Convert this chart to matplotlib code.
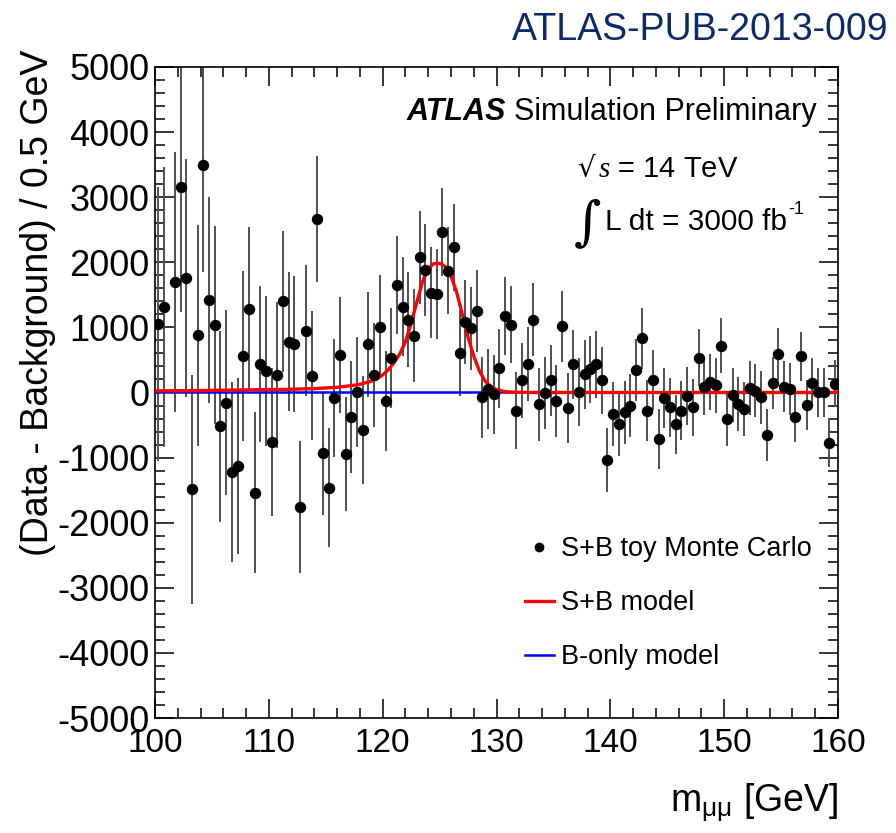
import numpy as np
import matplotlib
matplotlib.use('Agg')
import matplotlib.pyplot as plt
from matplotlib.lines import Line2D
from matplotlib.ticker import MultipleLocator

plt.rcParams['font.family'] = ['Liberation Sans', 'DejaVu Sans']
plt.rcParams['mathtext.fontset'] = 'custom'
plt.rcParams['mathtext.rm'] = 'Liberation Sans'
plt.rcParams['mathtext.it'] = 'Liberation Serif:italic'
plt.rcParams['mathtext.bf'] = 'Liberation Sans:bold'
plt.rcParams['axes.unicode_minus'] = False

# 0.5 GeV bins from 100 to 160 GeV
bin_lo = 100.0
bin_width = 0.5
n_bins = 120

# (data - background) per bin (bin 2 has no marker)
toy_values = [
    1050, 1320, np.nan, 1700, 3160, 1760, -1490, 880, 3490, 1420,
    1030, -520, -160, -1220, -1130, 560, 1290, -1540, 440, 330,
    -760, 270, 1400, 780, 750, -1760, 950, 260, 2670, -930,
    -1460, -90, 570, -950, -380, 10, -570, 740, 270, 1010,
    -130, 530, 1650, 1320, 1120, 875, 2080, 1880, 1530, 1510,
    2460, 1870, 2230, 605, 1090, 985, 1255, -75, 55, -26,
    370, 1170, 1040, -277, 190, 440, 1120, -180, -10, 185,
    -133, 1020, -236, 431, 5, 277, 355, 433, 185, -1036,
    -333, -487, -303, -200, 344, 831, -277, 190, -713, -82,
    -226, -487, -277, -56, -226, 535, 82, 166, 108, 718,
    -405, -36, -174, -256, 67, 26, -72, -656, 149, 595,
    92, 51, -369, 554, -195, 149, 0, 0, -769, 138,
]

toy_errors = [
    2100, 2150, np.nan, 2000, 1920, 1830, 1760, 1700, 1640, 1580,
    1520, 1470, 1420, 1380, 1350, 1310, 1250, 1235, 1200, 1150,
    1140, 1120, 1080, 1070, 1045, 1020, 1005, 985, 965, 945,
    920, 905, 890, 875, 860, 845, 830, 810, 800, 790,
    775, 765, 755, 755, 735, 720, 715, 710, 700, 690,
    677, 666, 670, 660, 645, 640, 633, 617, 612, 608,
    605, 600, 590, 585, 575, 570, 565, 564, 555, 550,
    550, 544, 538, 530, 523, 523, 518, 518, 510, 497,
    495, 490, 487, 487, 477, 467, 464, 460, 460, 456,
    452, 452, 447, 447, 441, 436, 431, 431, 425, 420,
    420, 410, 410, 410, 410, 408, 405, 400, 400, 400,
    390, 395, 385, 380, 380, 377, 375, 375, 370, 365,
]

# S+B model minus background
sb_mass = [100, 104, 108, 112, 114, 116, 117, 118, 119, 119.5,
           120, 120.5, 121, 121.5, 122, 122.5, 123, 123.5, 124, 124.5,
           125, 125.5, 126, 126.5, 127, 127.5, 128, 128.5, 129, 129.5,
           130, 130.5, 131, 132, 133, 160]
sb_values = [25, 30, 40, 50, 60, 80, 100, 125, 175, 210,
             270, 350, 460, 590, 780, 1060, 1390, 1700, 1900, 1980,
             1985, 1935, 1790, 1540, 1200, 850, 560, 330, 175, 90,
             45, 22, 10, 3, 0, 0]

# B-only model minus background
b_mass = [100, 160]
b_values = [0, 0]

W, H = 896, 833


def main():
    fig = plt.figure(figsize=(W / 100, H / 100), dpi=100)
    ax = fig.add_axes([155 / W, 1 - 718 / H, 683 / W, 651 / H])

    centres = bin_lo + bin_width * (np.arange(n_bins) + 0.5)

    ax.plot(b_mass, b_values, color='#0000ff', lw=1.8, zorder=3)
    ax.errorbar(centres, toy_values, yerr=toy_errors, fmt='none',
                ecolor='#505050', elinewidth=1.4, capsize=0, zorder=2)
    ax.plot(sb_mass, sb_values, color='#ff0000', lw=2.4, zorder=4)
    ax.plot(centres, toy_values, 'o', color='black', ms=7.2, zorder=5)

    ax.set_xlim(100, 160)
    ax.set_ylim(-5000, 5000)
    ax.xaxis.set_major_locator(MultipleLocator(10))
    ax.xaxis.set_minor_locator(MultipleLocator(2))
    ax.yaxis.set_major_locator(MultipleLocator(1000))
    ax.yaxis.set_minor_locator(MultipleLocator(200))
    ax.tick_params(which='both', direction='in', top=True, right=True, width=1.1)
    ax.tick_params(which='major', length=14)
    ax.tick_params(which='minor', length=7)
    ax.tick_params(axis='x', labelsize=24, pad=7)
    ax.tick_params(axis='y', labelsize=26, pad=4)
    for s in ax.spines.values():
        s.set_linewidth(1.2)

    fig.text(38 / W, 1 - 50 / H, '(Data - Background) / 0.5 GeV', rotation=90,
             ha='center', va='top', fontsize=27)
    fig.text(838 / W, 1 - 812 / H, r'm$_{\mathrm{\mu\mu}}$ [GeV]',
             ha='right', va='baseline', fontsize=27)

    fig.text(888 / W, 1 - 40 / H, 'ATLAS-PUB-2013-009', ha='right',
             va='baseline', fontsize=27, color='#0c2a68')

    fig.text(407 / W, 1 - 120 / H, 'ATLAS', ha='left', va='baseline',
             fontsize=22, fontweight='bold', fontstyle='italic')
    fig.text(817 / W, 1 - 120 / H, 'Simulation Preliminary', ha='right',
             va='baseline', fontsize=22)
    fig.text(577 / W, 1 - 177 / H, '\u221a', ha='left', va='baseline',
             fontsize=20, family='DejaVu Serif')
    fig.text(738 / W, 1 - 177 / H, r'$\mathit{s}$ = 14 TeV', ha='right',
             va='baseline', fontsize=21)
    fig.text(574 / W, 1 - 238 / H, '\u222b', ha='left', va='baseline',
             fontsize=38, family='DejaVu Serif')
    lumi = fig.text(605 / W, 1 - 230 / H, 'L dt = 3000 fb', ha='left',
                    va='baseline', fontsize=21.5)
    # superscript placed right after the lumi text
    bb = lumi.get_window_extent(renderer=fig.canvas.get_renderer())
    fig.text((bb.x1 + 1) / W, 1 - 214 / H, '-1', ha='left', va='baseline',
             fontsize=13)

    handles = [
        Line2D([], [], marker='o', ls='none', color='black', ms=6),
        Line2D([], [], color='#ff0000', lw=2.4),
        Line2D([], [], color='#0000ff', lw=1.8),
    ]
    labels = ['S+B toy Monte Carlo', 'S+B model', 'B-only model']
    ax.legend(handles, labels, loc='upper left', frameon=False, fontsize=19.5,
              bbox_to_anchor=((525 - 155) / 683, (718 - 536) / 651),
              handlelength=1.07, handletextpad=0.26, labelspacing=1.04,
              borderaxespad=0, borderpad=0)

    fig.savefig('out.png', dpi=100)
    plt.close(fig)


if __name__ == "__main__":
    main()
